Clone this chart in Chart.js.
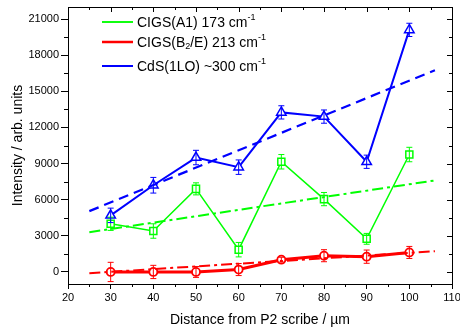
<!DOCTYPE HTML>
<html>
<head>
<title>Raman intensity vs distance</title>
<script src="https://cdn.jsdelivr.net/npm/chart.js@4.4.1/dist/chart.umd.min.js"></script>
<style>
    body { margin: 0; background-color: #ffffff; }
    #chartDiv { width: 460px; height: 333px; }
</style>
</head>
<body>
<div id="chartDiv">
    <canvas id="myChart" width="460" height="333"></canvas>
</div>
<script>

// measured points
var distances = [30, 40, 50, 60, 70, 80, 90, 100];
var cigsA1 = [4000, 3400, 6900, 1850, 9150, 6050, 2750, 9750];
var cigsA1Err = [550, 600, 500, 600, 600, 550, 450, 600];
var cigsB2E = [0, 0, 0, 200, 1020, 1350, 1270, 1620];
var cigsB2EErr = [800, 550, 450, 500, 200, 500, 550, 500];
var cdsLO = [4700, 7200, 9500, 8700, 13250, 12900, 9150, 20100];
var cdsLOErr = [600, 650, 600, 600, 550, 550, 550, 550];

// linear fits (end points)
var fitX = [25, 106];
var cigsA1Fit = [3300, 7600];
var cigsB2EFit = [-100, 1720];
var cdsLOFit = [5050, 16750];

// axes
var xTicks = [20, 30, 40, 50, 60, 70, 80, 90, 100, 110];
var xMinor = [25, 35, 45, 55, 65, 75, 85, 95, 105];
var yTicks = [0, 3000, 6000, 9000, 12000, 15000, 18000, 21000];
var yMinor = [1500, 4500, 7500, 10500, 13500, 16500, 19500];

var GREEN = '#00ff00';
var RED = '#ff0000';
var BLUE = '#0000ff';
var FONT = '"Liberation Sans", Arial, sans-serif';

function pts(xs, ys) {
    return xs.map(function (x, i) { return {x: x, y: ys[i]}; });
}

var errorBars = {
    id: 'errorBars',
    afterDatasetsDraw: function (chart) {
        var ctx = chart.ctx;
        var xs = chart.scales.x, ys = chart.scales.y;
        var sets = [[cigsA1, cigsA1Err, GREEN], [cigsB2E, cigsB2EErr, RED], [cdsLO, cdsLOErr, BLUE]];
        ctx.save();
        ctx.lineWidth = 1;
        sets.forEach(function (s) {
            ctx.strokeStyle = s[2];
            distances.forEach(function (d, i) {
                var px = xs.getPixelForValue(d);
                var top = ys.getPixelForValue(s[0][i] + s[1][i]);
                var bot = ys.getPixelForValue(s[0][i] - s[1][i]);
                ctx.beginPath();
                ctx.moveTo(px, top); ctx.lineTo(px, bot);
                ctx.moveTo(px - 3, top); ctx.lineTo(px + 3, top);
                ctx.moveTo(px - 3, bot); ctx.lineTo(px + 3, bot);
                ctx.stroke();
            });
        });
        ctx.restore();
    }
};

var frameTicks = {
    id: 'frameTicks',
    afterDraw: function (chart) {
        var ctx = chart.ctx;
        var a = chart.chartArea;
        var xs = chart.scales.x, ys = chart.scales.y;
        ctx.save();
        ctx.strokeStyle = '#000';
        ctx.lineWidth = 1;
        ctx.strokeRect(Math.round(a.left) + 0.5, Math.round(a.top) + 0.5, Math.round(a.right - a.left), Math.round(a.bottom - a.top));
        ctx.beginPath();
        xTicks.forEach(function (v) {
            var px = Math.round(xs.getPixelForValue(v)) + 0.5;
            ctx.moveTo(px, a.top); ctx.lineTo(px, a.top + 5);
        });
        xMinor.forEach(function (v) {
            var px = Math.round(xs.getPixelForValue(v)) + 0.5;
            ctx.moveTo(px, a.top); ctx.lineTo(px, a.top + 3);
            ctx.moveTo(px, a.bottom); ctx.lineTo(px, a.bottom + 3);
        });
        yTicks.forEach(function (v) {
            var py = Math.round(ys.getPixelForValue(v)) + 0.5;
            ctx.moveTo(a.right, py); ctx.lineTo(a.right - 5, py);
        });
        yMinor.forEach(function (v) {
            var py = Math.round(ys.getPixelForValue(v)) + 0.5;
            ctx.moveTo(a.right, py); ctx.lineTo(a.right - 3, py);
            ctx.moveTo(a.left, py); ctx.lineTo(a.left - 4, py);
        });
        ctx.stroke();

        // legend with sub/superscripts
        var rows = [
            [GREEN, 'rect', 1.5, ['CIGS(A1) 173 cm', ['-1', 'sup']]],
            [RED, 'circle', 2.5, ['CIGS(B', ['2', 'sub'], '/E) 213 cm', ['-1', 'sup']]],
            [BLUE, 'triangle', 2, ['CdS(1LO) ~300 cm', ['-1', 'sup']]]
        ];
        var rowY = [22, 42, 66];
        rows.forEach(function (r, i) {
            var y = rowY[i];
            ctx.strokeStyle = r[0];
            ctx.lineWidth = r[2];
            ctx.beginPath();
            ctx.moveTo(102, y); ctx.lineTo(133, y);
            ctx.stroke();
            ctx.lineWidth = 1.5;
            var rad = r[1] === 'rect' ? 5 : (r[1] === 'circle' ? 4 : 5.5);
            ctx.fillStyle = '#fff';
            Chart.helpers.drawPoint(ctx, {pointStyle: r[1], rotation: 0, borderWidth: 1.5}, 117.5, y, rad);
            ctx.fill();
            ctx.stroke();
            ctx.fillStyle = '#000';
            ctx.textBaseline = 'middle';
            var tx = 137;
            r[3].forEach(function (part) {
                if (typeof part === 'string') {
                    ctx.font = '14px ' + FONT;
                    ctx.fillText(part, tx, y + 1);
                    tx += ctx.measureText(part).width;
                } else {
                    ctx.font = '9px ' + FONT;
                    ctx.fillText(part[0], tx, part[1] === 'sup' ? y - 4 : y + 5);
                    tx += ctx.measureText(part[0]).width;
                }
            });
        });
        ctx.restore();
    }
};

var ctx = document.getElementById('myChart').getContext('2d');
var tickFont = {family: FONT, size: 11};
var titleFont = {family: FONT, size: 14};

var chart = new Chart(ctx, {
    type: 'line',
    data: {
        datasets: [
            {label: 'CIGS(A1) fit', data: pts(fitX, cigsA1Fit), borderColor: GREEN, borderWidth: 2, borderDash: [11, 4, 3, 4], pointRadius: 0, fill: false},
            {label: 'CIGS(B2/E) fit', data: pts(fitX, cigsB2EFit), borderColor: RED, borderWidth: 2, borderDash: [11, 4, 3, 4], pointRadius: 0, fill: false},
            {label: 'CdS(1LO) fit', data: pts(fitX, cdsLOFit), borderColor: BLUE, borderWidth: 2.2, borderDash: [10, 6], pointRadius: 0, fill: false},
            {label: 'CIGS(A1) 173 cm-1', data: pts(distances, cigsA1), borderColor: GREEN, backgroundColor: '#fff',
             borderWidth: 1.5, pointStyle: 'rect', pointRadius: 5, pointBorderWidth: 1.5, fill: false},
            {label: 'CIGS(B2/E) 213 cm-1', data: pts(distances, cigsB2E), borderColor: RED, backgroundColor: '#fff',
             borderWidth: 3, pointStyle: 'circle', pointRadius: 4, pointBorderWidth: 1.8, fill: false},
            {label: 'CdS(1LO) ~300 cm-1', data: pts(distances, cdsLO), borderColor: BLUE, backgroundColor: '#fff',
             borderWidth: 2, pointStyle: 'triangle', pointRadius: 5.5, pointBorderWidth: 1.5, fill: false}
        ]
    },
    options: {
        responsive: false,
        animation: false,
        layout: {padding: {top: 4, right: 8, left: 0, bottom: 0}},
        plugins: {legend: {display: false}, tooltip: {enabled: false}},
        scales: {
            x: {
                type: 'linear', min: 20, max: 110,
                afterBuildTicks: function (s) { s.ticks = xTicks.map(function (v) { return {value: v}; }); },
                afterFit: function (s) { s.height = 49; s.paddingLeft = 0; s.paddingRight = 0; },
                ticks: {font: tickFont, color: '#000', padding: 2, maxRotation: 0, autoSkip: false,
                        callback: function (v) { return String(v); }},
                grid: {drawOnChartArea: false, drawTicks: true, tickLength: 5, color: '#000'},
                border: {display: true, color: '#000', width: 1},
                title: {display: true, text: 'Distance from P2 scribe / µm', font: titleFont, color: '#000', padding: {top: 0, bottom: 4}}
            },
            y: {
                type: 'linear', min: -1000, max: 22000,
                afterBuildTicks: function (s) { s.ticks = yTicks.map(function (v) { return {value: v}; }); },
                afterFit: function (s) { s.width = 68; s.paddingTop = 0; s.paddingBottom = 0; },
                ticks: {font: tickFont, color: '#000', padding: 2, callback: function (v) { return String(v); }},
                grid: {drawOnChartArea: false, drawTicks: true, tickLength: 7, color: '#000'},
                border: {display: true, color: '#000', width: 1},
                title: {display: true, text: 'Intensity / arb. units', font: titleFont, color: '#000', padding: {top: 10, bottom: 0}}
            }
        }
    },
    plugins: [errorBars, frameTicks]
});

</script>
</body>
</html>
